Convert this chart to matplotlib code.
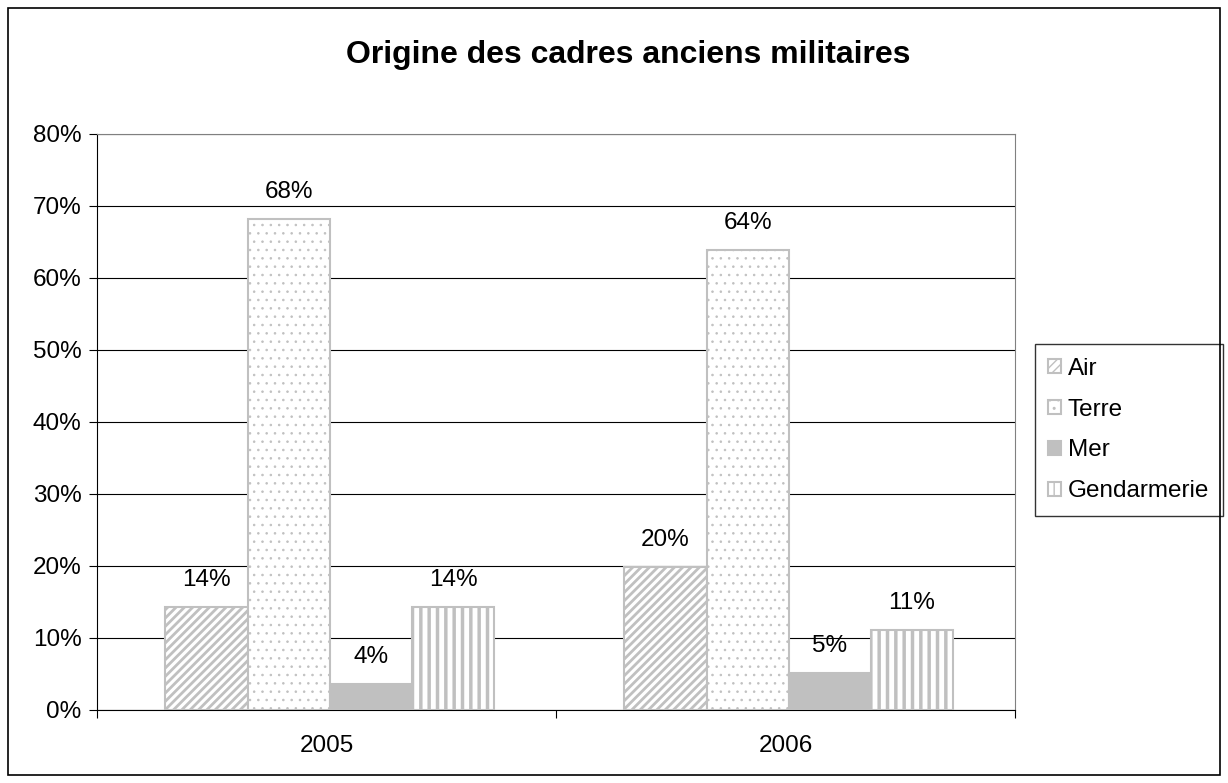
import matplotlib
matplotlib.use("Agg")
import matplotlib.pyplot as plt
import numpy as np
from matplotlib.patches import Rectangle

plt.rcParams['font.family'] = ['Liberation Sans', 'DejaVu Sans']

years = ["2005", "2006"]
series = ["Air", "Terre", "Mer", "Gendarmerie"]
air = [14.3, 19.9]
terre = [68.2, 63.9]
mer = [3.6, 5.2]
gendarmerie = [14.3, 11.1]
values = [air, terre, mer, gendarmerie]
yticks = [0, 10, 20, 30, 40, 50, 60, 70, 80]

grey = "#c0c0c0"
hatches = ["////", "..", None, "||"]
hatch_lw = [2.0, 0.6, 1.0, 2.5]
faces = ["white", "white", grey, "white"]

fig = plt.figure(figsize=(12.28, 7.83), dpi=100)
ax = fig.add_axes([97/1228, 1 - 710/783, (1015-97)/1228, (710-134)/783])

x = np.arange(len(years))
w = 0.179
offsets = (np.arange(4) - 1.5) * w + 0.007
for i, (name, vals) in enumerate(zip(series, values)):
    with plt.rc_context({'hatch.linewidth': hatch_lw[i]}):
        bars = ax.bar(x + offsets[i], vals, width=w, color=faces[i], edgecolor=grey,
                      hatch=hatches[i], linewidth=1.5, label=name, zorder=3)
    for b in bars:
        if hasattr(b, "set_hatch_linewidth"):
            b.set_hatch_linewidth(hatch_lw[i])
    for b, v in zip(bars, vals):
        ax.text(b.get_x() + b.get_width()/2, v + 2.2, f"{round(v):d}%",
                ha="center", va="bottom", fontsize=17.5, zorder=4)

ax.set_xlim(-0.5, 1.5)
ax.set_ylim(0, 80)
ax.set_yticks(yticks)
ax.set_yticklabels([f"{t}%" for t in yticks], fontsize=17.5)
ax.yaxis.grid(True, color="#000000", linewidth=0.8, zorder=0)
ax.set_axisbelow(True)
ax.set_xticks([-0.5, 0.5, 1.5])
ax.set_xticklabels([])
ax.set_xticks(x, minor=True)
ax.set_xticklabels(years, minor=True, fontsize=17.5)
ax.tick_params(axis="x", which="minor", length=0, pad=18)
ax.tick_params(axis="x", which="major", length=6, direction="out", color="#000000")
ax.tick_params(axis="y", length=6, direction="out", pad=5)
for s in ["top", "right"]:
    ax.spines[s].set_color("#808080")
ax.spines["left"].set_color("#000000")
ax.spines["bottom"].set_color("#000000")

fig.text(0.512, 1 - 55/783, "Origine des cadres anciens militaires", ha="center",
         va="center", fontsize=23, fontweight="bold")

leg = ax.legend(loc="center left", bbox_to_anchor=(1035/1228, 1 - 430/783),
                bbox_transform=fig.transFigure, fontsize=17.5, frameon=True,
                fancybox=False, edgecolor="#000000", handlelength=0.5,
                handleheight=0.5, handletextpad=0.3, borderpad=0.55, labelspacing=0.78,
                borderaxespad=0)
leg.get_frame().set_linewidth(1.0)

fig.patches.append(Rectangle((8/1228, 8/783), 1212/1228, 767/783, transform=fig.transFigure,
                             fill=False, edgecolor="black", linewidth=1.2))

fig.savefig("out.png", dpi=100)
